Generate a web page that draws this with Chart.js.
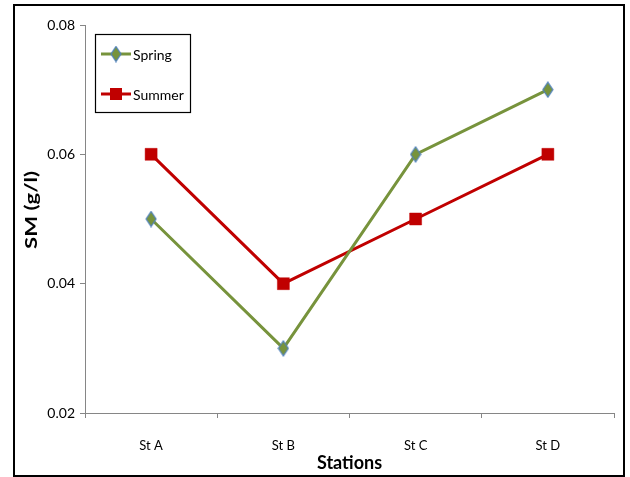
<!DOCTYPE html>
<html>
<head>
<meta charset="utf-8">
<script src="https://cdn.jsdelivr.net/npm/chart.js@4"></script>
<style>
html,body{margin:0;padding:0;background:#fff;}
#wrap{position:relative;width:630px;height:477px;}
</style>
</head>
<body>
<div id="wrap"><canvas id="c" width="630" height="477"></canvas></div>
<script>
const categories = ['St A', 'St B', 'St C', 'St D'];
const springValues = [0.05, 0.03, 0.06, 0.07];
const summerValues = [0.06, 0.04, 0.05, 0.06];
const seriesNames = ['Spring', 'Summer'];
const yTicks = [0.02, 0.04, 0.06, 0.08];
const yTitle = 'SM (g/l)';
const xTitle = 'Stations';

const FONT = "'Liberation Sans Narrow', Lato, sans-serif";

// custom tall diamond marker
function makeDiamond() {
  const c = document.createElement('canvas');
  c.width = 12; c.height = 17;
  const g = c.getContext('2d');
  g.beginPath();
  g.moveTo(6, 1); g.lineTo(11, 8.5); g.lineTo(6, 16); g.lineTo(1, 8.5); g.closePath();
  g.fillStyle = '#77933C'; g.fill();
  g.strokeStyle = '#4F81BD'; g.lineWidth = 1.2; g.stroke();
  return c;
}
const diamond = makeDiamond();

const frame = {
  id: 'frame',
  afterDraw(chart) {
    const ctx = chart.ctx;
    ctx.save();
    ctx.strokeStyle = '#000'; ctx.lineWidth = 2;
    ctx.strokeRect(14, 5, 610, 471);
    // y axis title (wide, bold)
    ctx.save();
    ctx.translate(32, 210);
    ctx.rotate(-Math.PI / 2);
    ctx.scale(1.3, 1);
    ctx.fillStyle = '#000';
    ctx.font = 'bold 17px ' + FONT;
    ctx.textAlign = 'center'; ctx.textBaseline = 'middle';
    ctx.fillText(yTitle, 0, 0);
    ctx.restore();
    // legend box
    ctx.lineWidth = 1.2;
    ctx.strokeRect(95.5, 34.5, 95, 78);
    const items = chart.data.datasets;
    const ys = [54, 94];
    items.forEach((ds, i) => {
      const y = ys[i];
      ctx.strokeStyle = ds.borderColor; ctx.lineWidth = 3;
      ctx.beginPath(); ctx.moveTo(101, y); ctx.lineTo(131, y); ctx.stroke();
      if (i === 0) {
        ctx.drawImage(diamond, 116 - 6, y - 8.5);
      } else {
        ctx.fillStyle = ds.pointBackgroundColor;
        ctx.fillRect(110, y - 6, 12, 12);
        ctx.strokeStyle = 'rgba(192,0,0,0.45)'; ctx.lineWidth = 1;
        ctx.strokeRect(110.5, y - 5.5, 11, 11);
      }
      ctx.fillStyle = '#000';
      ctx.font = '14px ' + FONT;
      ctx.textBaseline = 'middle'; ctx.textAlign = 'left';
      ctx.fillText(ds.label, 133, y + 1);
    });
    ctx.restore();
  }
};

new Chart(document.getElementById('c'), {
  type: 'line',
  data: {
    labels: categories,
    datasets: [
      {
        label: seriesNames[0], data: springValues,
        borderColor: '#77933C', borderWidth: 3,
        pointStyle: diamond, pointRadius: 7,
        pointBackgroundColor: '#77933C', pointBorderColor: '#4F81BD',
        tension: 0
      },
      {
        label: seriesNames[1], data: summerValues,
        borderColor: '#C00000', borderWidth: 3,
        pointStyle: 'rect', pointRadius: 8.5, pointBorderWidth: 1,
        pointBackgroundColor: '#C00000', pointBorderColor: 'rgba(192,0,0,0.45)',
        tension: 0
      }
    ]
  },
  options: {
    responsive: false,
    animation: false,
    layout: { padding: { left: 0, top: 25, right: 16, bottom: 0 } },
    plugins: { legend: { display: false }, tooltip: { enabled: false } },
    scales: {
      x: {
        offset: true,
        grid: { offset: true, drawOnChartArea: false, drawTicks: true, tickLength: 5, color: '#868686' },
        border: { color: '#868686', width: 1 },
        ticks: { color: '#000', font: { family: FONT, size: 13 }, padding: 20 },
        title: { display: true, text: xTitle, color: '#000', font: { family: FONT, size: 18, weight: 'bold' }, padding: { top: 0, bottom: 3 } },
        afterFit(s) { s.height = 64; }
      },
      y: {
        min: 0.02, max: 0.08,
        afterBuildTicks(s) { s.ticks = yTicks.map(v => ({ value: v })); },
        grid: { drawOnChartArea: false, drawTicks: true, tickLength: 5, color: '#868686' },
        border: { color: '#868686', width: 1 },
        ticks: { color: '#000', font: { family: FONT, size: 14 }, padding: 5,
          callback: v => v.toFixed(2) },
        title: { display: false },
        afterFit(s) { s.width = 85; }
      }
    }
  },
  plugins: [frame]
});
</script>
</body>
</html>
